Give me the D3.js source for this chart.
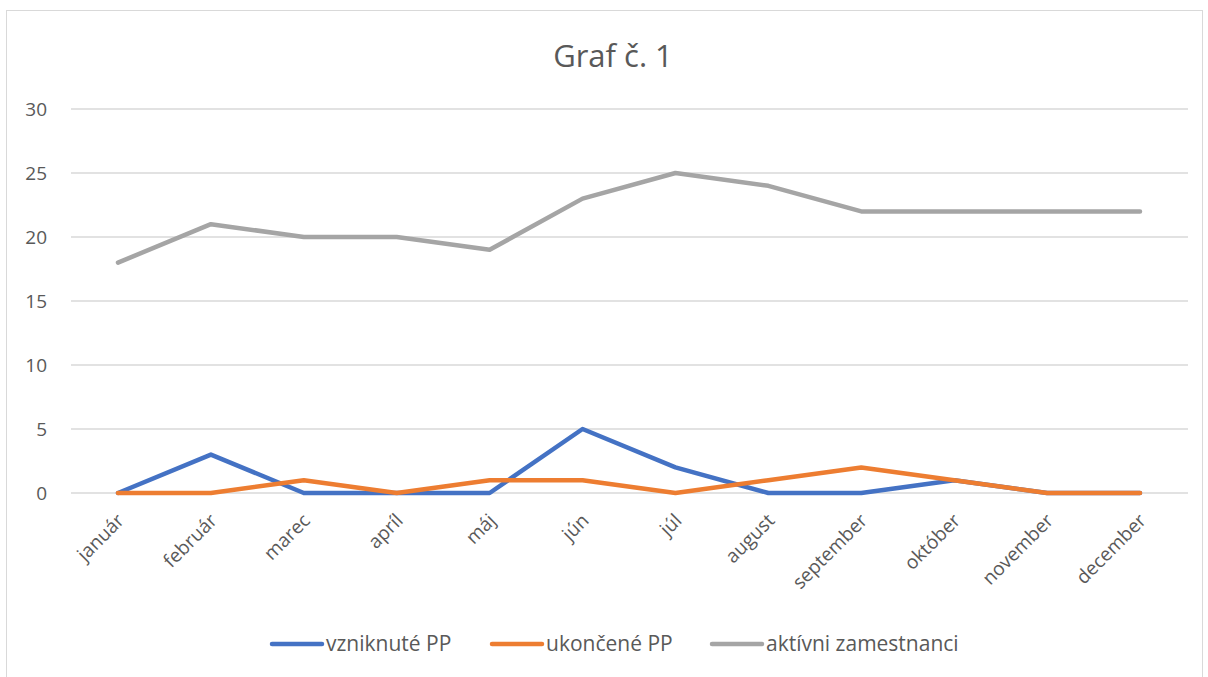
<!DOCTYPE html>
<html lang="sk">
<head>
    <meta charset="UTF-8">
    <title>Graf č. 1</title>
    <style>
        body { margin: 0; background: #fff; }
        text { font-family: "Open Sans", "Noto Sans", sans-serif; fill: #595959; }
    </style>
</head>
<body>
    <div class="canvas"></div>
    <script src="https://d3js.org/d3.v7.min.js"></script>
    <script>
        const months = ['január', 'február', 'marec', 'apríl', 'máj', 'jún', 'júl', 'august', 'september', 'október', 'november', 'december'];
        const vzniknute = [0, 3, 0, 0, 0, 5, 2, 0, 0, 1, 0, 0];
        const ukoncene = [0, 0, 1, 0, 1, 1, 0, 1, 2, 1, 0, 0];
        const aktivni = [18, 21, 20, 20, 19, 23, 25, 24, 22, 22, 22, 22];
        const yTicks = [0, 5, 10, 15, 20, 25, 30];

        const series = [
            { name: 'vzniknuté PP', values: vzniknute, color: '#4472C4' },
            { name: 'ukončené PP', values: ukoncene, color: '#ED7D31' },
            { name: 'aktívni zamestnanci', values: aktivni, color: '#A5A5A5' }
        ];

        const W = 1208, H = 677;
        const svg = d3.select('.canvas').append('svg')
            .attr('width', W).attr('height', H);

        // chart border
        svg.append('rect')
            .attr('x', 6.5).attr('y', 10.5)
            .attr('width', 1196).attr('height', 680)
            .attr('fill', 'none').attr('stroke', '#d9d9d9');

        svg.append('text')
            .attr('x', 613).attr('y', 67)
            .attr('text-anchor', 'middle')
            .style('font-size', '31px')
            .text('Graf č. 1');

        const x = d3.scalePoint().domain(months).range([118, 1140]);
        const y = d3.scaleLinear().domain([0, 30]).range([493, 109]);

        // gridlines
        svg.append('g').selectAll('line').data(yTicks).enter().append('line')
            .attr('x1', 71).attr('x2', 1188)
            .attr('y1', d => y(d)).attr('y2', d => y(d))
            .attr('stroke', '#d9d9d9').attr('stroke-width', 1.3);

        const yAxis = svg.append('g')
            .attr('transform', 'translate(47,0)')
            .call(d3.axisLeft(y).tickValues(yTicks).tickSize(0).tickPadding(0));
        yAxis.select('.domain').remove();
        yAxis.selectAll('text')
            .style('font-size', '19px').style('fill', '#595959')
            .style('font-family', '"Open Sans", sans-serif');

        const xAxis = svg.append('g')
            .attr('transform', 'translate(0,493)')
            .call(d3.axisBottom(x).tickSize(0));
        xAxis.select('.domain').remove();
        xAxis.selectAll('text')
            .style('font-size', '19px').style('fill', '#595959')
            .style('font-family', '"Open Sans", sans-serif')
            .attr('text-anchor', 'end')
            .attr('dy', '0.35em')
            .attr('transform', 'translate(0,22) rotate(-45)');

        const line = d3.line()
            .x((d, i) => x(months[i]))
            .y(d => y(d));

        svg.append('g').selectAll('path').data(series).enter().append('path')
            .attr('d', d => line(d.values))
            .attr('fill', 'none')
            .attr('stroke', d => d.color)
            .attr('stroke-width', 4.5)
            .attr('stroke-linejoin', 'round')
            .attr('stroke-linecap', 'round');

        // legend
        const legendX = [272, 492, 712];
        const legend = svg.append('g').selectAll('g').data(series).enter().append('g')
            .attr('transform', (d, i) => `translate(${legendX[i]},644)`);
        legend.append('line')
            .attr('x1', 0).attr('x2', 50)
            .attr('stroke', d => d.color).attr('stroke-width', 4.5)
            .attr('stroke-linecap', 'round');
        legend.append('text')
            .attr('x', 54).attr('dy', '0.35em')
            .style('font-size', '21px')
            .text(d => d.name);
    </script>
</body>
</html>
